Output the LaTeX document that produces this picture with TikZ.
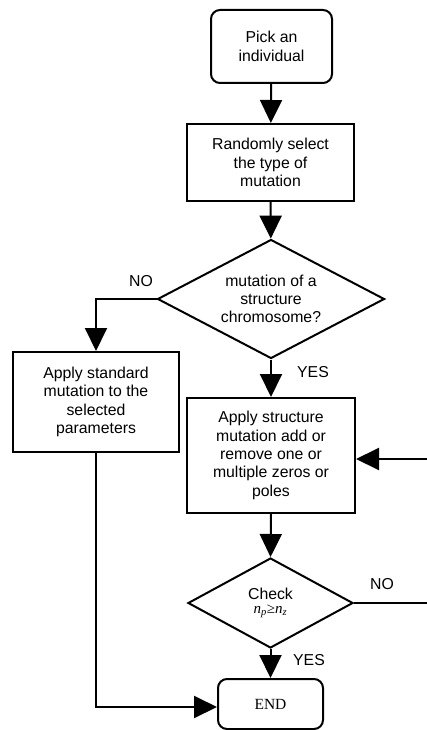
\documentclass[tikz,border=0pt]{standalone}
\usepackage{fontspec}
\setmainfont{Liberation Sans}
\newfontfamily\seriffont{Liberation Serif}
\usetikzlibrary{arrows.meta,shapes.geometric}
\tikzset{
  base/.style={draw=black, line width=2pt, align=center, inner sep=0pt,
    font=\fontsize{15.8}{18.3}\selectfont},
  procbox/.style={base, rectangle},
  termbox/.style={base, rectangle, rounded corners=9pt},
  decision/.style={base, diamond},
  conn/.style={line width=2pt, -{Triangle[length=23pt,width=22pt]}},
  plain/.style={line width=2pt},
  lbl/.style={font=\fontsize{15.8}{18.3}\selectfont, inner sep=0pt}
}
\begin{document}
\begin{tikzpicture}[x=1pt,y=-1pt]
\useasboundingbox[fill=white] (0,0) rectangle (427,730);
\node[termbox, minimum width=121pt, minimum height=73pt] (pick) at (271.5,46.5) {Pick an\\individual};
\node[procbox, minimum width=167pt, minimum height=77pt] (rand) at (270.5,162.5) {Randomly select\\the type of\\mutation};
\node[decision, minimum width=227pt, minimum height=119pt, aspect=1.9] (dec) at (271,299) {mutation of a\\structure\\chromosome?};
\node[procbox, minimum width=166pt, minimum height=100pt] (std) at (96,402) {Apply standard\\mutation to the\\selected\\parameters};
\node[procbox, minimum width=168pt, minimum height=115pt] (struct) at (271,455.5) {Apply structure\\mutation add or\\remove one or\\multiple zeros or\\poles};
\node[decision, minimum width=165pt, minimum height=90pt, aspect=1.83] (check) at (270.5,603) {Check\\[-4.5pt]{\seriffont\fontsize{15}{16}\selectfont\textit{n}\textsubscript{\textit{p}}≥\textit{n}\textsubscript{\textit{z}}}};
\node[termbox, minimum width=105pt, minimum height=50pt, font=\seriffont\fontsize{15.5}{18}\selectfont] (end) at (270.5,704) {END};
\coordinate (loopin) at (427,459);
\coordinate (loopout) at (427,603);
\node[lbl] (no1) at (141,281) {NO};
\node[lbl] (yes1) at (313,372) {YES};
\node[lbl] (no2) at (382,584) {NO};
\node[lbl] (yes2) at (309,660) {YES};
\draw[conn] (pick) -- (rand);
\draw[conn] (rand) -- (dec);
\draw[conn] (dec.west) -| (std.north);
\draw[conn] (dec.south) -- (struct.north);
\draw[conn] (struct.south) -- (check.north);
\draw[plain] (check.east) -- (loopout);
\draw[conn] (loopin) -- (struct.east |- loopin);
\draw[conn] (check.south) -- (end.north);
\draw[conn] (std.south) |- ([yshift=-3pt]end.west);
\end{tikzpicture}
\end{document}
